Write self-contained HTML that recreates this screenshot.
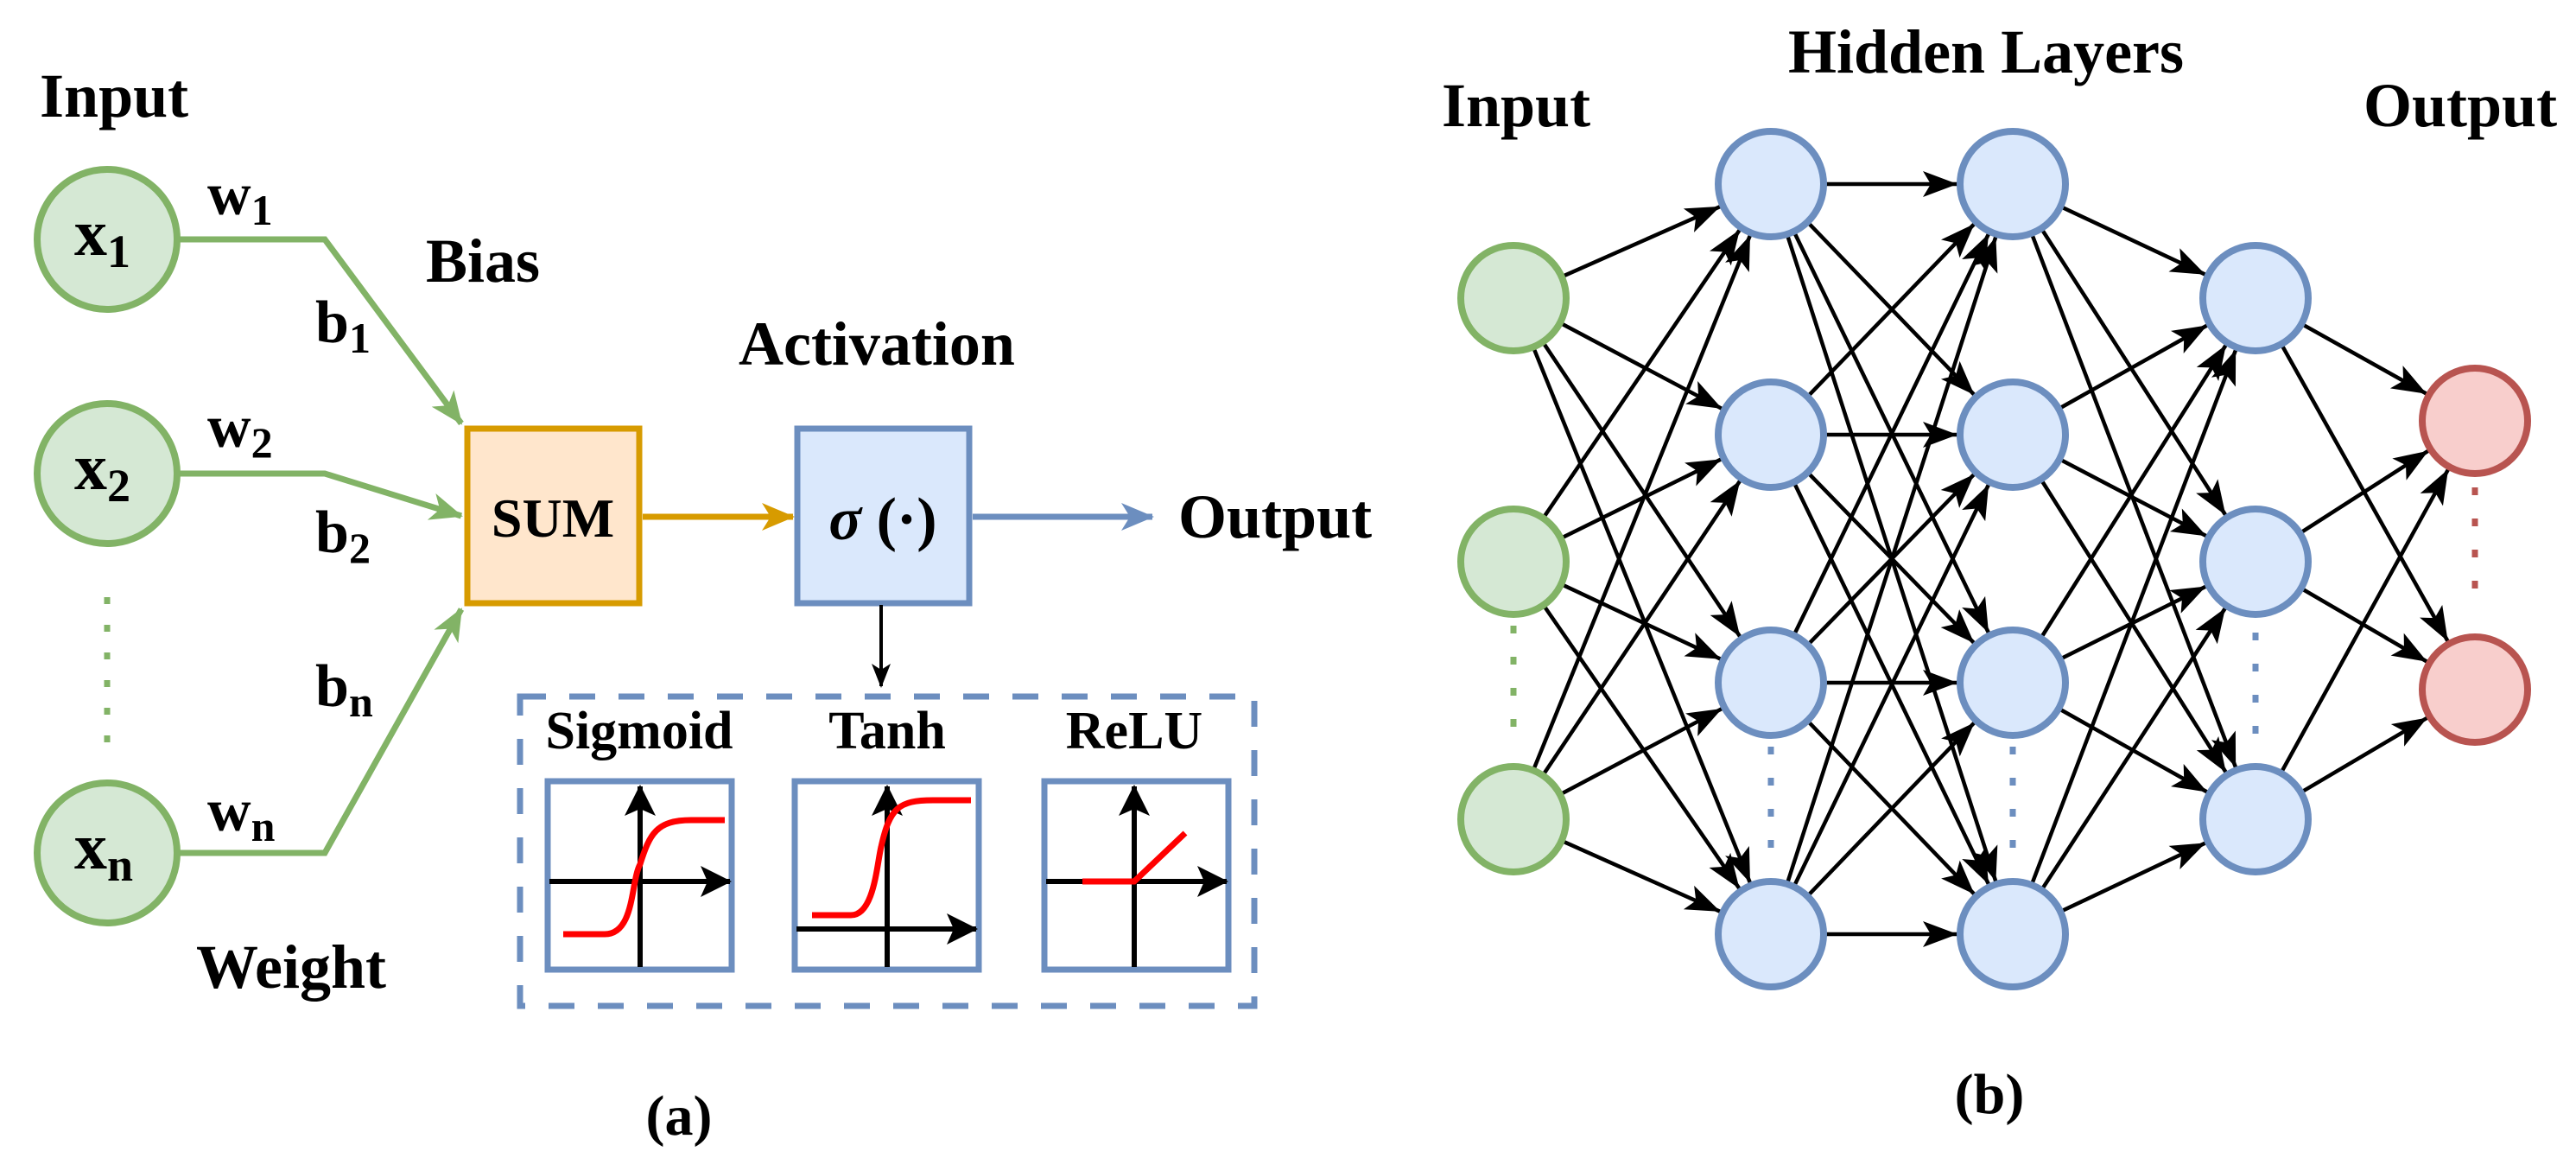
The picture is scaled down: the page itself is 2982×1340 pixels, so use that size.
<!DOCTYPE html>
<html><head><meta charset="utf-8"><style>
html,body{margin:0;padding:0;background:#fff;}
svg{display:block;}
svg text{font-family:"Liberation Serif","DejaVu Serif",serif !important;font-weight:bold;fill:#000;}
</style></head><body>
<svg width="2982" height="1340" viewBox="0 0 2982 1340" xmlns="http://www.w3.org/2000/svg" font-family="Liberation Serif, DejaVu Serif, serif">
<defs>
<marker id="ag" markerUnits="userSpaceOnUse" viewBox="-40 -20 44 40" refX="0" refY="0" markerWidth="44" markerHeight="40" orient="auto"><path d="M2,0 L-36,-16 L-26,0 L-36,16 Z" fill="#82b366"/></marker>
<marker id="ao" markerUnits="userSpaceOnUse" viewBox="-40 -20 44 40" refX="0" refY="0" markerWidth="44" markerHeight="40" orient="auto"><path d="M2,0 L-36,-16 L-26,0 L-36,16 Z" fill="#d79b00"/></marker>
<marker id="ab" markerUnits="userSpaceOnUse" viewBox="-40 -20 44 40" refX="0" refY="0" markerWidth="44" markerHeight="40" orient="auto"><path d="M2,0 L-36,-16 L-26,0 L-36,16 Z" fill="#6c8ebf"/></marker>
<marker id="ak" markerUnits="userSpaceOnUse" viewBox="-30 -15 34 30" refX="0" refY="0" markerWidth="34" markerHeight="30" orient="auto"><path d="M2,0 L-26,-11 L-19,0 L-26,11 Z" fill="#000"/></marker>
<marker id="as" markerUnits="userSpaceOnUse" viewBox="-40 -20 44 40" refX="0" refY="0" markerWidth="44" markerHeight="40" orient="auto"><path d="M2,0 L-34,-18 L-26,0 L-34,18 Z" fill="#000"/></marker>
<marker id="an" markerUnits="userSpaceOnUse" viewBox="-110 -20 115 40" refX="0" refY="0" markerWidth="115" markerHeight="40" orient="auto"><path d="M-64,0 L-104,-15 L-95,0 L-104,15 Z" fill="#000"/></marker>
</defs>

<!-- (a) -->
<text x="46" y="135" font-size="72">Input</text>
<g fill="#d5e8d4" stroke="#82b366" stroke-width="8">
<circle cx="124" cy="277" r="81"/>
<circle cx="124" cy="548" r="81"/>
<circle cx="124" cy="987" r="81"/>
</g>
<text x="86" y="295" font-size="76">x<tspan font-size="54" dy="14">1</tspan></text>
<text x="86" y="566" font-size="76">x<tspan font-size="54" dy="14">2</tspan></text>
<text x="86" y="1005" font-size="76">x<tspan font-size="54" dy="14">n</tspan></text>
<line x1="124" y1="691" x2="124" y2="865" stroke="#82b366" stroke-width="7" stroke-dasharray="8,24"/>
<g fill="none" stroke="#82b366" stroke-width="7">
<polyline points="206,277 376,277 534,490" marker-end="url(#ag)"/>
<polyline points="206,548 376,548 534,597" marker-end="url(#ag)"/>
<polyline points="206,987 376,987 534,705" marker-end="url(#ag)"/>
</g>
<text x="240" y="248" font-size="70">w<tspan font-size="50" dy="12">1</tspan></text>
<text x="240" y="517" font-size="70">w<tspan font-size="50" dy="12">2</tspan></text>
<text x="240" y="961" font-size="70">w<tspan font-size="50" dy="12">n</tspan></text>
<text x="365" y="396" font-size="70">b<tspan font-size="50" dy="12">1</tspan></text>
<text x="365" y="639" font-size="70">b<tspan font-size="50" dy="12">2</tspan></text>
<text x="365" y="817" font-size="70">b<tspan font-size="50" dy="12">n</tspan></text>
<text x="493" y="326" font-size="72">Bias</text>
<text x="227" y="1143" font-size="72">Weight</text>
<text x="855" y="422" font-size="72">Activation</text>

<rect x="541" y="496" width="199" height="202" fill="#ffe6cc" stroke="#d79b00" stroke-width="7"/>
<text x="640" y="621" font-size="64" text-anchor="middle">SUM</text>
<line x1="744" y1="598" x2="918" y2="598" stroke="#d79b00" stroke-width="7" marker-end="url(#ao)"/>
<rect x="923" y="496" width="199" height="202" fill="#dae8fc" stroke="#6c8ebf" stroke-width="7"/>
<text x="1022" y="624" font-size="70" text-anchor="middle" font-weight="normal"><tspan font-style="italic">σ</tspan> (·)</text>
<line x1="1126" y1="598" x2="1334" y2="598" stroke="#6c8ebf" stroke-width="7" marker-end="url(#ab)"/>
<text x="1364" y="622" font-size="72">Output</text>
<line x1="1020" y1="700" x2="1020" y2="794" stroke="#000" stroke-width="4" marker-end="url(#ak)"/>

<rect x="602" y="806" width="850" height="358" fill="none" stroke="#6c8ebf" stroke-width="7" stroke-dasharray="30,27"/>
<text x="740" y="866" font-size="62" text-anchor="middle">Sigmoid</text>
<text x="1027" y="866" font-size="62" text-anchor="middle">Tanh</text>
<text x="1313" y="866" font-size="62" text-anchor="middle">ReLU</text>
<g fill="#fff" stroke="#6c8ebf" stroke-width="7">
<rect x="634" y="904" width="213" height="218"/>
<rect x="920" y="904" width="213" height="218"/>
<rect x="1209" y="904" width="213" height="218"/>
</g>
<g stroke="#000" stroke-width="6" fill="none">
<line x1="741" y1="1119" x2="741" y2="910" marker-end="url(#as)"/>
<line x1="636" y1="1020" x2="845" y2="1020" marker-end="url(#as)"/>
<line x1="1027" y1="1119" x2="1027" y2="910" marker-end="url(#as)"/>
<line x1="922" y1="1075" x2="1130" y2="1075" marker-end="url(#as)"/>
<line x1="1313" y1="1119" x2="1313" y2="910" marker-end="url(#as)"/>
<line x1="1211" y1="1020" x2="1420" y2="1020" marker-end="url(#as)"/>
</g>
<g stroke="#ff0000" stroke-width="7" fill="none">
<path d="M652,1081 L700,1081 C735,1081 730,1020 741,1000 C752,965 760,949 800,949 L839,949"/>
<path d="M940,1059 L985,1059 C1012,1059 1015,1000 1020,980 C1030,935 1040,926 1080,926 L1124,926"/>
<polyline points="1253,1020 1313,1020 1372,964"/>
</g>
<text x="786" y="1313" font-size="66" text-anchor="middle">(a)</text>

<!-- (b) -->
<text x="2299" y="84" font-size="72" text-anchor="middle">Hidden Layers</text>
<text x="1755" y="146" font-size="72" text-anchor="middle">Input</text>
<text x="2848" y="146" font-size="72" text-anchor="middle">Output</text>
<text x="2303" y="1288" font-size="66" text-anchor="middle">(b)</text>

<g stroke="#000" stroke-width="4.5" marker-end="url(#an)">
<line x1="1752" y1="345" x2="2050" y2="213"/><line x1="1752" y1="345" x2="2050" y2="503"/><line x1="1752" y1="345" x2="2050" y2="790"/><line x1="1752" y1="345" x2="2050" y2="1081"/>
<line x1="1752" y1="650" x2="2050" y2="213"/><line x1="1752" y1="650" x2="2050" y2="503"/><line x1="1752" y1="650" x2="2050" y2="790"/><line x1="1752" y1="650" x2="2050" y2="1081"/>
<line x1="1752" y1="948" x2="2050" y2="213"/><line x1="1752" y1="948" x2="2050" y2="503"/><line x1="1752" y1="948" x2="2050" y2="790"/><line x1="1752" y1="948" x2="2050" y2="1081"/>
<line x1="2050" y1="213" x2="2330" y2="213"/><line x1="2050" y1="213" x2="2330" y2="503"/><line x1="2050" y1="213" x2="2330" y2="790"/><line x1="2050" y1="213" x2="2330" y2="1081"/>
<line x1="2050" y1="503" x2="2330" y2="213"/><line x1="2050" y1="503" x2="2330" y2="503"/><line x1="2050" y1="503" x2="2330" y2="790"/><line x1="2050" y1="503" x2="2330" y2="1081"/>
<line x1="2050" y1="790" x2="2330" y2="213"/><line x1="2050" y1="790" x2="2330" y2="503"/><line x1="2050" y1="790" x2="2330" y2="790"/><line x1="2050" y1="790" x2="2330" y2="1081"/>
<line x1="2050" y1="1081" x2="2330" y2="213"/><line x1="2050" y1="1081" x2="2330" y2="503"/><line x1="2050" y1="1081" x2="2330" y2="790"/><line x1="2050" y1="1081" x2="2330" y2="1081"/>
<line x1="2330" y1="213" x2="2611" y2="345"/><line x1="2330" y1="213" x2="2611" y2="650"/><line x1="2330" y1="213" x2="2611" y2="948"/>
<line x1="2330" y1="503" x2="2611" y2="345"/><line x1="2330" y1="503" x2="2611" y2="650"/><line x1="2330" y1="503" x2="2611" y2="948"/>
<line x1="2330" y1="790" x2="2611" y2="345"/><line x1="2330" y1="790" x2="2611" y2="650"/><line x1="2330" y1="790" x2="2611" y2="948"/>
<line x1="2330" y1="1081" x2="2611" y2="345"/><line x1="2330" y1="1081" x2="2611" y2="650"/><line x1="2330" y1="1081" x2="2611" y2="948"/>
<line x1="2611" y1="345" x2="2865" y2="487"/><line x1="2611" y1="345" x2="2865" y2="798"/>
<line x1="2611" y1="650" x2="2865" y2="487"/><line x1="2611" y1="650" x2="2865" y2="798"/>
<line x1="2611" y1="948" x2="2865" y2="487"/><line x1="2611" y1="948" x2="2865" y2="798"/>
</g>

<g fill="#d5e8d4" stroke="#82b366" stroke-width="8">
<circle cx="1752" cy="345" r="61"/><circle cx="1752" cy="650" r="61"/><circle cx="1752" cy="948" r="61"/>
</g>
<g fill="#dae8fc" stroke="#6c8ebf" stroke-width="8">
<circle cx="2050" cy="213" r="61"/><circle cx="2050" cy="503" r="61"/><circle cx="2050" cy="790" r="61"/><circle cx="2050" cy="1081" r="61"/>
<circle cx="2330" cy="213" r="61"/><circle cx="2330" cy="503" r="61"/><circle cx="2330" cy="790" r="61"/><circle cx="2330" cy="1081" r="61"/>
<circle cx="2611" cy="345" r="61"/><circle cx="2611" cy="650" r="61"/><circle cx="2611" cy="948" r="61"/>
</g>
<g fill="#f8cecc" stroke="#b85450" stroke-width="8">
<circle cx="2865" cy="487" r="61"/><circle cx="2865" cy="798" r="61"/>
</g>
<g stroke-width="7" stroke-dasharray="9,27">
<line x1="1752" y1="724" x2="1752" y2="868" stroke="#82b366"/>
<line x1="2050" y1="864" x2="2050" y2="1008" stroke="#6c8ebf"/>
<line x1="2330" y1="864" x2="2330" y2="1008" stroke="#6c8ebf"/>
<line x1="2611" y1="732" x2="2611" y2="876" stroke="#6c8ebf"/>
<line x1="2865" y1="564" x2="2865" y2="708" stroke="#b85450"/>
</g>
</svg>
</body></html>
